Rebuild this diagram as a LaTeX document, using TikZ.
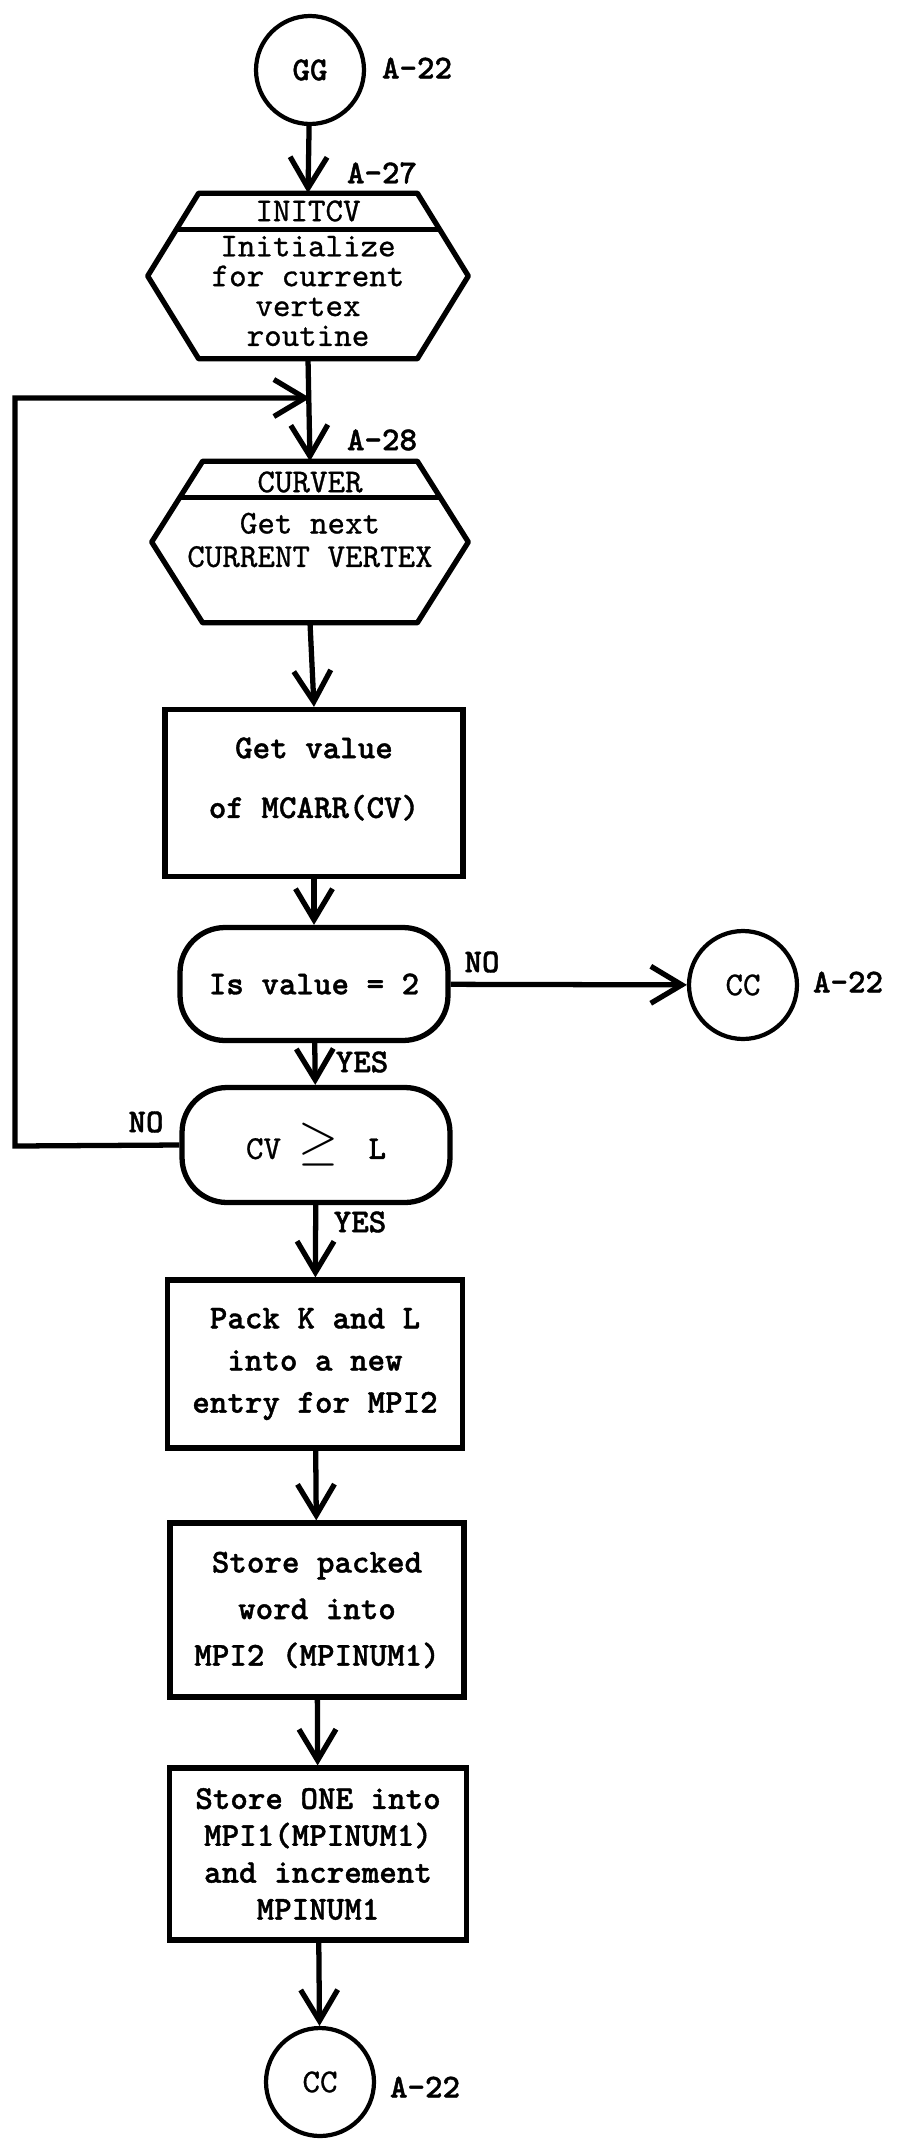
\documentclass[tikz,border=0pt]{standalone}
\usepackage{fontspec}
\newfontfamily\typer{lmmono10-regular.otf}[FakeBold=0.8, BoldFont=lmmonolt10-bold.otf, BoldFeatures={FakeBold=1.2}]
\usetikzlibrary{arrows.meta,calc}
\begin{document}
\begin{tikzpicture}[x=0.02cm,y=-0.02cm,
	txt/.style={font=\typer\fontsize{19}{17}\selectfont, align=center, inner sep=0pt},
	btxt/.style={txt, font=\typer\bfseries\fontsize{19}{17}\selectfont},
	hexbox/.style={rectangle, inner sep=0pt},
	procbox/.style={btxt, draw, line width=3pt},
	decbox/.style={btxt, draw, line width=3pt, rounded corners=0.9cm, minimum width=5.36cm, minimum height=2.26cm},
	conn/.style={txt, draw, circle, line width=2.4pt, minimum size=2.16cm},
	outline/.style={line width=3pt, line join=round},
	edge/.style={line width=3pt, -{Straight Barb[length=0.62cm,width=0.74cm]}}]
	\useasboundingbox (0,0) rectangle (896,2139);
	\node[conn, btxt] (gg) at (310,70) {GG};
	\node[btxt] (ggref) at (417,68) {A-22};
	\node[btxt] (initcvref) at (382,173) {A-27};
	\node[hexbox, minimum width=6.4cm, minimum height=3.3cm] (initcv) at (308,276) {};
	\node[txt] (initcvname) at (308,211) {INITCV};
	\node[txt] (initcvbody) at (308,291) {Initialize\\for current\\vertex\\routine};
	\coordinate (join) at (310,398);
	\node[btxt] (curverref) at (382,440) {A-28};
	\node[hexbox, minimum width=6.32cm, minimum height=3.22cm] (curver) at (310,542) {};
	\node[txt] (curvername) at (310,482) {CURVER};
	\node[txt] (curverbody) at (310,540) {Get next\\[2pt]CURRENT VERTEX};
	\foreach \h in {initcv,curver} {
		\draw[outline] ($(\h.north west)+(51,0)$) -- ($(\h.north east)+(-51,0)$) -- (\h.east)
			-- ($(\h.south east)+(-51,0)$) -- ($(\h.south west)+(51,0)$) -- (\h.west) -- cycle;
		\draw[outline] ($(\h.north west)+(29,36)$) -- ($(\h.north east)+(-29,36)$);
	}
	\node[procbox, minimum width=5.96cm, minimum height=3.34cm] (mcarr) at (314,793) {};
	\node[btxt] (mcarrtxt) at (314,779) {Get value\\[17pt]of MCARR(CV)};
	\node[decbox] (dec1) at (314,984) {Is value = 2};
	\node[btxt] (no1) at (482,962) {NO};
	\node[conn] (ccright) at (743,985) {CC};
	\node[btxt] (ccref) at (848,982) {A-22};
	\node[btxt] (yes1) at (362,1062) {YES};
	\node[decbox, minimum height=2.3cm] (dec2) at (316,1145) {{\mdseries CV}\hspace{0.35cm}\resizebox*{0.8cm}{0.86cm}{$\geq$}\hspace{0.6cm}L};
	\node[btxt] (no2) at (146,1122) {NO};
	\coordinate (loopbot) at (15,1146);
	\coordinate (looptop) at (15,398);
	\node[btxt] (yes2) at (360,1222) {YES};
	\node[procbox, minimum width=5.9cm, minimum height=3.36cm] (pack) at (315,1364) {Pack K and L\\[7pt]into a new\\[7pt]entry for MPI2};
	\node[procbox, minimum width=5.88cm, minimum height=3.48cm] (store) at (317,1610) {Store packed\\[9.5pt]word into\\[9.5pt]MPI2 (MPINUM1)};
	\node[procbox, minimum width=5.94cm, minimum height=3.44cm] (storeone) at (318,1854) {Store ONE into\\[4pt]MPI1(MPINUM1)\\[4pt]and increment\\[4pt]MPINUM1};
	\node[conn] (ccbot) at (320,2082) {CC};
	\node[btxt] (endref) at (425,2087) {A-22};
	\draw[edge] (gg) -- (initcv.north);
	\draw[edge] (initcv.south) -- (curver.north);
	\draw[edge] (curver.south) -- (mcarr.north);
	\draw[edge] (mcarr) -- (dec1);
	\draw[edge] (dec1) -- (ccright);
	\draw[edge] (dec1) -- (dec2);
	\draw[edge] (dec2.west) -- (loopbot) -- (looptop) -- (join);
	\draw[edge] (dec2) -- (pack);
	\draw[edge] (pack) -- (store);
	\draw[edge] (store) -- (storeone);
	\draw[edge] (storeone) -- (ccbot);
\end{tikzpicture}
\end{document}
